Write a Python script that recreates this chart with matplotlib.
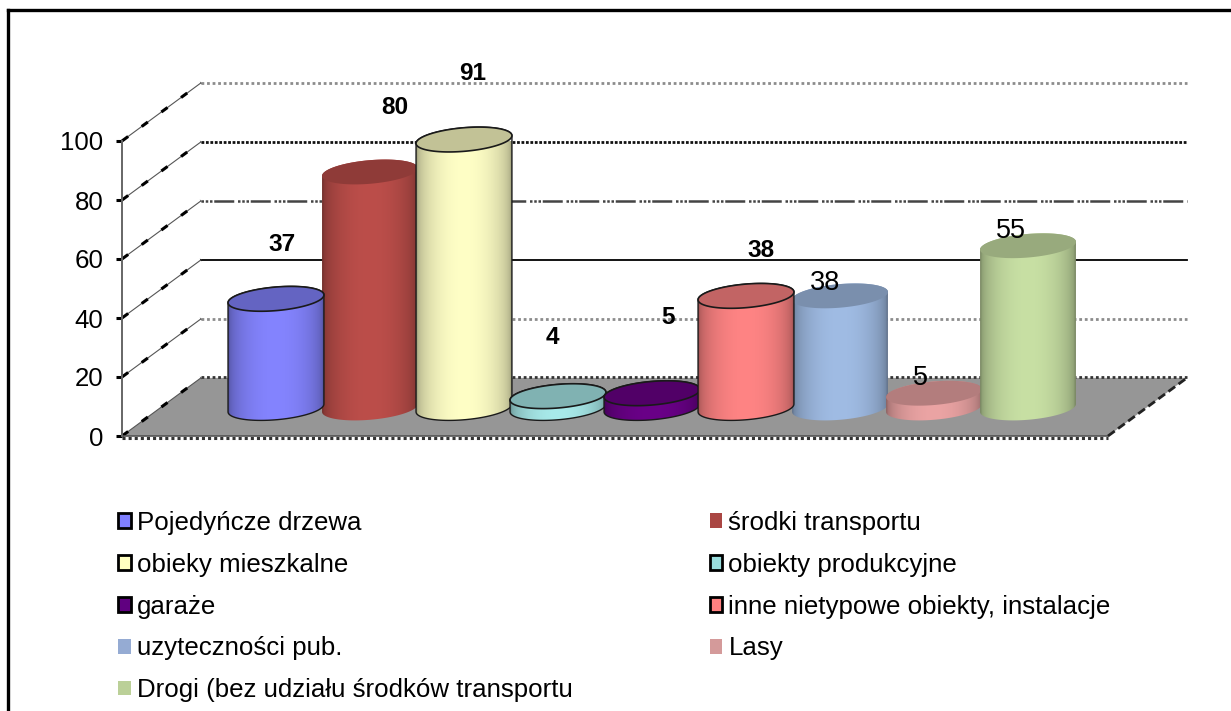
#!/usr/bin/env python3
# -*- coding: utf-8 -*-
import numpy as np
import matplotlib as mpl
mpl.use('Agg')
import matplotlib.pyplot as plt
from matplotlib.patches import Polygon, Patch
from matplotlib.lines import Line2D

categories = ['Pojedyńcze drzewa', 'środki transportu', 'obieky mieszkalne',
              'obiekty produkcyjne', 'garaże', 'inne nietypowe obiekty, instalacje',
              'uzyteczności pub.', 'Lasy', 'Drogi (bez udziału środków transportu']
values = [37, 80, 91, 4, 5, 38, 38, 5, 55]
colors = ['#8484FF', '#BC4E4A', '#FFFFC6', '#A8EAEA', '#6A0088',
          '#FF8484', '#A0BCE4', '#EBA4A4', '#C8E0A4']
legend_colors = ['#7F7FFF', '#AA4643', '#FFFFC0', '#99DDDD', '#600080',
                 '#FF8080', '#95ABD3', '#D49A9A', '#BBD098']
outlined = [True, False, True, True, True, True, False, False, False]
bold_label = [True, True, True, True, True, True, False, False, False]
# label offset from the cylinder top (category units, value units)
label_dx = [0.06, 0.26, 0.09, -0.06, 0.17, 0.16, -0.16, -0.14, -0.18]
label_dy = [18.5, 22, 22.5, 20, 25.7, 15.5, 4.5, 5, 5]
yticks = [0, 20, 40, 60, 80, 100]

# 3d look
depth_x = 0.84
depth_y = 19.7
base_y = 9.5
rad_x = 0.51
rad_y = 4.0
tilt = 2.6
x_lo = -1.638
x_hi = 8.851

plt.rcParams['font.family'] = ['Liberation Sans', 'DejaVu Sans']
FS = 18.6

fig = plt.figure(figsize=(12.31, 7.11), dpi=100)
ax = fig.add_axes([122/1231, (711-436)/711, 986/1231, 295/711])
ax.patch.set_visible(False)

# floor
floor = [(x_lo, 0), (x_lo+depth_x, depth_y), (x_hi+depth_x, depth_y), (x_hi, 0)]
ax.add_patch(Polygon(floor, closed=True, fc='#969696', ec='none', zorder=1, clip_on=False))
ax.plot([x_lo, x_hi], [-0.6, -0.6], color='#333333', lw=2.2, ls=(0, (1, 1)), clip_on=False, zorder=2)
ax.plot([x_lo, x_hi], [0, 0], color='#555555', lw=1.2, clip_on=False, zorder=2)
ax.plot([x_lo+depth_x, x_hi+depth_x], [depth_y+0.3, depth_y+0.3], color='#333333', lw=2,
        ls=(0, (1, 1)), clip_on=False, zorder=2)
ax.plot([x_hi, x_hi+depth_x], [0, depth_y], color='#222222', lw=2, ls=(0, (3, 1.5)),
        clip_on=False, zorder=2)

# back wall and side wall
grid_style = {20: ('#8c8c8c', 2.0, (0, (1, 1))),
              40: ('#000000', 1.3, '-'),
              60: ('#444444', 1.8, (0, (1, 0.7, 1, 0.7, 1, 0.7, 8, 1.5))),
              80: ('#111111', 2.0, (0, (1, 0.6))),
              100: ('#8c8c8c', 2.0, (0, (1, 1)))}
for v in yticks[1:]:
    c, w, ls = grid_style[v]
    ax.plot([x_lo+depth_x, x_hi+depth_x], [v+depth_y, v+depth_y], color=c, lw=w, ls=ls,
            clip_on=False, zorder=1)
for v in yticks:
    ax.plot([x_lo, x_lo+depth_x], [v, v+depth_y], color='#555555', lw=0.8, clip_on=False, zorder=1)
    ax.plot([x_lo, x_lo+depth_x], [v, v+depth_y], color='#000000', lw=2.2, ls=(0, (2.5, 5.5)),
            clip_on=False, zorder=1)

t = np.linspace(0, 2*np.pi, 181)

def ring(x, y, tt):
    return np.column_stack([x+rad_x*np.cos(tt), y+rad_y*np.sin(tt)+tilt*rad_x*np.cos(tt)])

for i, (val, col) in enumerate(zip(values, colors)):
    z = 5+i+(10 if outlined[i] else 0)
    top = base_y+val
    rgb = np.array(mpl.colors.to_rgb(col))
    u = np.linspace(0, 1, 64)
    shade = 0.62+0.38*np.sin(np.pi*u)**0.45
    grad = np.clip(shade[None, :, None]*rgb[None, None, :], 0, 1)
    body = np.vstack([ring(i, base_y, np.linspace(np.pi, 2*np.pi, 60)),
                      ring(i, top, np.linspace(0, np.pi, 60))])
    im = ax.imshow(grad, extent=(i-rad_x, i+rad_x, base_y-rad_y-2, top+rad_y+2), aspect='auto',
                   zorder=z, interpolation='bilinear')
    im.set_clip_path(Polygon(body, closed=True, transform=ax.transData))
    edge = '#1a1a1a' if outlined[i] else 'none'
    ax.add_patch(Polygon(body, closed=True, fc='none', ec=edge, lw=1.0, zorder=z, clip_on=False))
    ax.add_patch(Polygon(ring(i, top, t), closed=True, fc=rgb*0.76, ec=edge, lw=1.2, zorder=z,
                         clip_on=False))
    ax.text(i+label_dx[i], top+label_dy[i], str(val), ha='center', va='center',
            fontsize=17.6 if bold_label[i] else 19.5,
            fontweight='bold' if bold_label[i] else 'normal', zorder=30, clip_on=False)

ax.set_xlim(x_lo, x_hi)
ax.set_ylim(0, 100)
ax.set_xticks([])
ax.set_yticks(yticks)
ax.tick_params(axis='y', length=4.5, width=2.2, pad=9, labelsize=FS, color='black')
for s in ['top', 'right', 'bottom']:
    ax.spines[s].set_visible(False)
ax.spines['left'].set_color('#666666')
ax.spines['left'].set_linewidth(1.4)

handles = [Patch(fc=c, ec='black' if o else c, lw=2 if o else 0)
           for c, o in zip(legend_colors, outlined)]
order = [0, 2, 4, 6, 8, 1, 3, 5, 7]
fig.legend([handles[k] for k in order], [categories[k] for k in order], ncols=2,
           loc='upper left', bbox_to_anchor=(118/1231, 1-511/711), frameon=False, fontsize=FS,
           labelspacing=0.69, columnspacing=5.3, handlelength=0.5, handleheight=0.5,
           handletextpad=0.23, borderpad=0, borderaxespad=0)

# chart frame, only top and left are in the picture
fig.add_artist(Line2D([8/1231, 8/1231], [0, 1-10/711], color='black', lw=2.4))
fig.add_artist(Line2D([8/1231, 1], [1-10/711, 1-10/711], color='black', lw=2.4))

plt.savefig('out.png', dpi=100)
